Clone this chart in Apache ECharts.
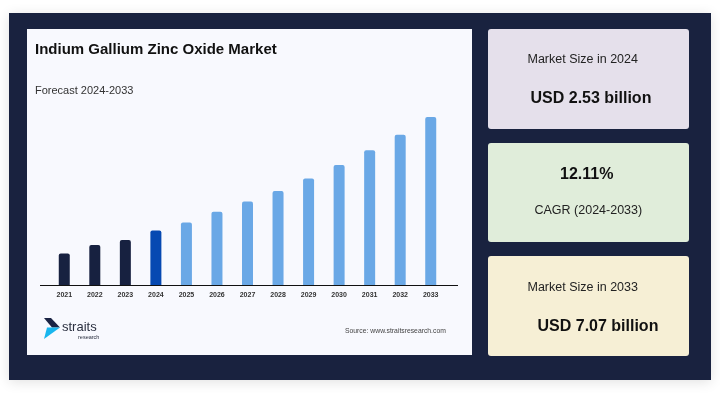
<!DOCTYPE html>
<html>
<head>
<meta charset="utf-8">
<script src="https://cdn.jsdelivr.net/npm/echarts@6/dist/echarts.min.js"></script>
<style>
html,body{margin:0;padding:0;background:#ffffff;}
#chart{width:720px;height:398px;}
</style>
</head>
<body>
<div id="chart"></div>
<script>
// ---- data ----
const years = ['2021','2022','2023','2024','2025','2026','2027','2028','2029','2030','2031','2032','2033'];
const marketValues = [1.33, 1.68, 1.89, 2.30, 2.63, 3.08, 3.52, 3.96, 4.48, 5.05, 5.67, 6.33, 7.07];
const baseYear = '2024';
const titleText = 'Indium Gallium Zinc Oxide Market';
const subtitleText = 'Forecast 2024-2033';
const sourceText = 'Source: www.straitsresearch.com';
const cardLabels = ['Market Size in 2024', 'CAGR (2024-2033)', 'Market Size in 2033'];
const cardValues = ['USD 2.53 billion', '12.11%', 'USD 7.07 billion'];

const FONT = '"Liberation Sans", Arial, Helvetica, sans-serif';
const C_HIST = '#172140', C_BASE = '#0649b2', C_FORE = '#6aa8e6';

const chart = echarts.init(document.getElementById('chart'), null, {renderer: 'canvas'});

const barData = marketValues.map((v, i) => {
  const y = years[i];
  const col = y < baseYear ? C_HIST : (y === baseYear ? C_BASE : C_FORE);
  return {value: v, itemStyle: {color: col}};
});

const graphics = [
  // outer dark frame with shadow
  {type: 'rect', z: -20, shape: {x: 9, y: 13, width: 702, height: 367},
   style: {fill: '#19223f', shadowBlur: 12, shadowColor: 'rgba(0,0,0,0.12)', shadowOffsetY: 2}},
  // chart panel
  {type: 'rect', z: -15, shape: {x: 27, y: 29, width: 445, height: 326}, style: {fill: '#f8f9fe'}},
  // cards
  {type: 'rect', z: -15, shape: {x: 488, y: 29, width: 201, height: 100, r: 3}, style: {fill: '#e5e0eb'}},
  {type: 'rect', z: -15, shape: {x: 488, y: 143, width: 201, height: 99, r: 3}, style: {fill: '#e0edda'}},
  {type: 'rect', z: -15, shape: {x: 488, y: 256, width: 201, height: 100, r: 3}, style: {fill: '#f6efd5'}},
  // titles
  {type: 'text', z: 10, x: 35, y: 50, style: {text: titleText, font: 'bold 15px ' + FONT, fill: '#111111', textVerticalAlign: 'middle'}},
  {type: 'text', z: 10, x: 35, y: 91, style: {text: subtitleText, font: '11px ' + FONT, fill: '#333333', textVerticalAlign: 'middle'}},
  {type: 'text', z: 10, x: 345, y: 331.5, style: {text: sourceText, font: '6.8px ' + FONT, fill: '#444444', textVerticalAlign: 'middle'}},
  // axis line
  {type: 'line', z: 10, shape: {x1: 40, y1: 285.5, x2: 458, y2: 285.5}, style: {stroke: '#111111', lineWidth: 1}},
  // logo
  {type: 'polygon', z: 10, shape: {points: [[44,318],[51,318],[60,327.5],[52,327.5]]}, style: {fill: '#1b2444'}},
  {type: 'polygon', z: 10, shape: {points: [[47,327.5],[60,327.5],[44,339]]}, style: {fill: '#19b6ee'}},
  {type: 'text', z: 10, x: 62, y: 327, style: {text: 'straits', font: '13px ' + FONT, fill: '#2b3040', textVerticalAlign: 'middle'}},
  {type: 'text', z: 10, x: 78, y: 337, style: {text: 'research', font: '5.5px ' + FONT, fill: '#2b3040', textVerticalAlign: 'middle'}},
  // card texts
  {type: 'text', z: 10, x: 527.5, y: 60, style: {text: cardLabels[0], font: '12.5px ' + FONT, fill: '#222222', textVerticalAlign: 'middle'}},
  {type: 'text', z: 10, x: 530.5, y: 98.5, style: {text: cardValues[0], font: 'bold 16px ' + FONT, fill: '#111111', textVerticalAlign: 'middle'}},
  {type: 'text', z: 10, x: 560, y: 174.5, style: {text: cardValues[1], font: 'bold 16px ' + FONT, fill: '#111111', textVerticalAlign: 'middle'}},
  {type: 'text', z: 10, x: 534.5, y: 211, style: {text: cardLabels[1], font: '12.5px ' + FONT, fill: '#222222', textVerticalAlign: 'middle'}},
  {type: 'text', z: 10, x: 527.5, y: 288, style: {text: cardLabels[2], font: '12.5px ' + FONT, fill: '#222222', textVerticalAlign: 'middle'}},
  {type: 'text', z: 10, x: 537.5, y: 327, style: {text: cardValues[2], font: 'bold 16px ' + FONT, fill: '#111111', textVerticalAlign: 'middle'}}
];

chart.setOption({
  backgroundColor: '#ffffff',
  animation: false,
  textStyle: {fontFamily: FONT},
  grid: {left: 49, right: 274, top: 95, bottom: 113, containLabel: false},
  xAxis: {
    type: 'category',
    data: years,
    axisLine: {show: false},
    axisTick: {show: false},
    axisLabel: {fontSize: 7, fontWeight: 'bold', color: '#333333', margin: 7, interval: 0, fontFamily: FONT}
  },
  yAxis: {type: 'value', min: 0, max: 8, show: false, splitLine: {show: false}},
  series: [{
    type: 'bar',
    data: barData,
    barWidth: 11,
    itemStyle: {borderRadius: [2, 2, 0, 0]}
  }],
  graphic: {elements: graphics}
});
</script>
</body>
</html>
